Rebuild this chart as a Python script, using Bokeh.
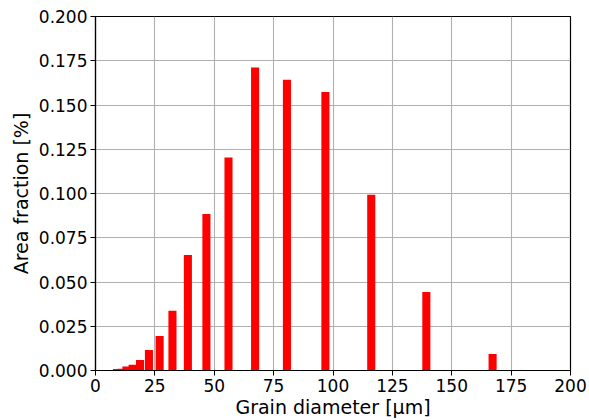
from bokeh.plotting import figure
from bokeh.models import Range1d, FixedTicker, NumeralTickFormatter, ColumnDataSource
from bokeh.embed import file_html
from bokeh.resources import INLINE

# Grain size distribution: bin centres (µm) and area fraction per bin
diameters = [9.04, 10.85, 13.02, 15.63, 18.75, 22.5, 27.0, 32.4, 38.9, 46.7,
             56.0, 67.2, 80.6, 96.8, 116.1, 139.3, 167.2]
area_fraction = [0.0009, 0.0010, 0.0022, 0.0033, 0.0059, 0.0116, 0.0195, 0.0338,
                 0.0653, 0.0884, 0.1203, 0.1712, 0.1642, 0.1574, 0.0993, 0.0443, 0.0093]

x_ticks = [0, 25, 50, 75, 100, 125, 150, 175, 200]
y_ticks = [0.0, 0.025, 0.05, 0.075, 0.1, 0.125, 0.15, 0.175, 0.2]

FONT = "DejaVu Sans"
TICK_SIZE = "17px"
LABEL_SIZE = "19px"

p = figure(width=589, height=420, output_backend="svg", toolbar_location=None,
           x_range=Range1d(0, 200), y_range=Range1d(0, 0.2),
           min_border_left=95, min_border_right=19, min_border_top=16, min_border_bottom=50)

src = ColumnDataSource(dict(x=diameters, top=area_fraction))
p.vbar(x="x", top="top", width=3.4, bottom=0, source=src,
       fill_color="#ff0000", line_color=None)

p.background_fill_color = "white"
p.border_fill_color = "white"
p.outline_line_color = "black"
p.outline_line_width = 1.2

for ax in (p.xaxis[0], p.yaxis[0]):
    ax.axis_line_color = "black"
    ax.axis_line_width = 1.2
    ax.major_tick_line_color = "black"
    ax.major_tick_out = 5
    ax.major_tick_in = 0
    ax.minor_tick_line_color = None
    ax.major_label_text_font = FONT
    ax.major_label_text_font_size = TICK_SIZE
    ax.major_label_text_color = "black"
    ax.axis_label_text_font = FONT
    ax.axis_label_text_font_size = LABEL_SIZE
    ax.axis_label_text_font_style = "normal"
    ax.axis_label_text_color = "black"

p.xaxis.ticker = FixedTicker(ticks=x_ticks)
p.yaxis.ticker = FixedTicker(ticks=y_ticks)
p.xaxis.formatter = NumeralTickFormatter(format="0")
p.yaxis.formatter = NumeralTickFormatter(format="0.000")
p.xaxis.axis_label = "Grain diameter [μm]"
p.yaxis.axis_label = "Area fraction [%]"
p.xaxis.major_label_standoff = 3
p.yaxis.major_label_standoff = 3
p.xaxis.axis_label_standoff = 1
p.yaxis.axis_label_standoff = 4

p.xgrid.grid_line_color = "#b0b0b0"
p.ygrid.grid_line_color = "#b0b0b0"
p.xgrid.grid_line_width = 1.1
p.ygrid.grid_line_width = 1.1
p.xgrid.level = "underlay"
p.ygrid.level = "underlay"

open("out.html", "w").write(file_html(p, INLINE))
